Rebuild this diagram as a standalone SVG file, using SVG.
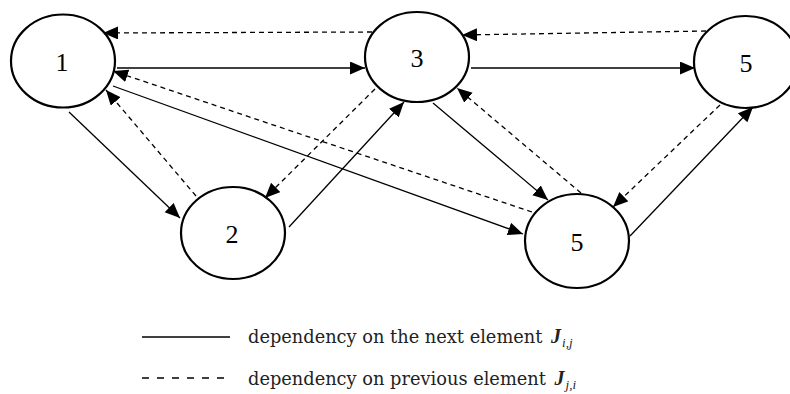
<svg xmlns="http://www.w3.org/2000/svg" width="790" height="394" viewBox="0 0 790 394">
<style>
.node ellipse{fill:#fff;stroke:#000;stroke-width:2.2}
.node text{font-family:"Liberation Serif",serif;font-size:26px;fill:#000;text-anchor:middle}
.solid{stroke:#000;stroke-width:1.3;fill:none;marker-end:url(#ah)}
.dash{stroke:#000;stroke-width:1.3;fill:none;stroke-dasharray:5 4;marker-end:url(#ah)}
.leg{font-family:"DejaVu Serif",serif;font-size:17.8px;fill:#222}
.J{font-family:"Liberation Serif",serif;font-style:italic;font-weight:bold;font-size:20px}
.sub{font-family:"Liberation Serif",serif;font-style:italic;font-size:13px}
</style>
<defs>
<marker id="ah" markerUnits="userSpaceOnUse" markerWidth="16" markerHeight="14" refX="15" refY="6.5" orient="auto">
<path d="M0,0 L15,6.5 L0,13 Z" fill="#000"/>
</marker>
</defs>
<g id="connectors">
<line class="solid" x1="117" y1="68" x2="365" y2="68"/>
<line class="solid" x1="471" y1="68" x2="695" y2="68"/>
<line class="solid" x1="69" y1="112" x2="180" y2="218"/>
<line class="solid" x1="289" y1="227" x2="404" y2="102"/>
<line class="solid" x1="433" y1="103" x2="548" y2="200"/>
<line class="solid" x1="113" y1="86" x2="523" y2="234"/>
<line class="solid" x1="630" y1="236" x2="753" y2="107"/>
<line class="dash" x1="372" y1="32" x2="103" y2="33"/>
<line class="dash" x1="706" y1="31" x2="462" y2="35"/>
<line class="dash" x1="375" y1="89" x2="265" y2="198"/>
<line class="dash" x1="196" y1="196" x2="106" y2="90"/>
<line class="dash" x1="532" y1="212" x2="113" y2="71"/>
<line class="dash" x1="581" y1="193" x2="457" y2="88"/>
<line class="dash" x1="720" y1="105" x2="613" y2="207"/>
</g>
<g id="node1" class="node"><ellipse cx="63" cy="61" rx="52" ry="46.5"/><text x="62" y="71">1</text></g>
<g id="node3" class="node"><ellipse cx="417" cy="57" rx="52" ry="45"/><text x="417" y="67">3</text></g>
<g id="node5a" class="node"><ellipse cx="746" cy="62" rx="52" ry="46"/><text x="746" y="72">5</text></g>
<g id="node2" class="node"><ellipse cx="233" cy="233" rx="52" ry="46"/><text x="232" y="243">2</text></g>
<g id="node5b" class="node"><ellipse cx="577" cy="241" rx="52" ry="47"/><text x="577" y="251">5</text></g>
<g id="legend">
<line x1="142" y1="337" x2="230" y2="337" stroke="#000" stroke-width="1.5"/>
<line x1="142" y1="378" x2="230" y2="378" stroke="#000" stroke-width="1.5" stroke-dasharray="7 8"/>
<text class="leg" x="248" y="343">dependency on the next element <tspan class="J" dx="3">J</tspan><tspan class="sub" dx="1" dy="4">i,j</tspan></text>
<text class="leg" x="248" y="385">dependency on previous element <tspan class="J" dx="3">J</tspan><tspan class="sub" dx="1" dy="4">j,i</tspan></text>
</g>
</svg>
